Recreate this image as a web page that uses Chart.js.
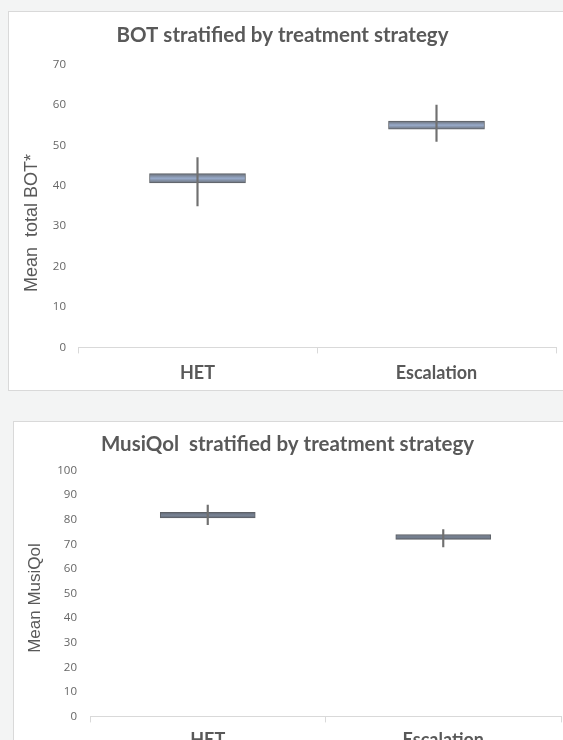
<!DOCTYPE html>
<html>
<head>
<meta charset="utf-8">
<script src="https://cdn.jsdelivr.net/npm/chart.js@4.4.1/dist/chart.umd.min.js"></script>
<style>
  html, body { margin: 0; padding: 0; }
  body { width: 563px; height: 740px; background: #f3f4f4; position: relative; overflow: hidden; }
  .panel { position: absolute; background: #ffffff; border: 1px solid #d9d9d9; overflow: hidden; }
  #p1 { left: 8px; top: 11px; width: 570px; height: 378px; }
  #p2 { left: 13px; top: 421px; width: 570px; height: 360px; }
  canvas { display: block; }
</style>
</head>
<body>
<div class="panel" id="p1"><canvas id="botChart" width="565" height="388"></canvas></div>
<div class="panel" id="p2"><canvas id="qolChart" width="560" height="360"></canvas></div>
<script>
// categories
const categories = ["HET", "Escalation"];

// BOT: box (low/high) and whiskers (min/max)
const botBoxLow = [40.7, 54];
const botBoxHigh = [43, 56];
const botWhiskerLow = [35, 51];
const botWhiskerHigh = [47, 60];
const botTicksMax = 70;

// MusiQol
const qolBoxLow = [80.7, 72];
const qolBoxHigh = [83, 74];
const qolWhiskerLow = [78, 69];
const qolWhiskerHigh = [86, 76];
const qolTicksMax = 100;

const GREY_TEXT = "#595959";

function pairs(lo, hi) {
  return lo.map((v, i) => [v, hi[i]]);
}

// shaded box like the office chart style: dark rim, lighter middle
function boxGradient(ctx, light, dark) {
  const chart = ctx.chart;
  if (!chart.chartArea || !Array.isArray(ctx.raw)) return light;
  const y = chart.scales.y;
  const top = y.getPixelForValue(Math.max(ctx.raw[0], ctx.raw[1]));
  const bot = y.getPixelForValue(Math.min(ctx.raw[0], ctx.raw[1]));
  if (!isFinite(top) || bot - top < 1) return light;
  const g = chart.ctx.createLinearGradient(0, top, 0, bot);
  g.addColorStop(0, dark);
  g.addColorStop(0.5, light);
  g.addColorStop(1, dark);
  return g;
}

// vertical axis title placed where the original has it
const sideTitle = {
  id: "sideTitle",
  afterDraw(chart, args, opts) {
    const c = chart.ctx;
    c.save();
    c.translate(opts.x, opts.y);
    c.rotate(-Math.PI / 2);
    c.font = opts.font;
    c.fillStyle = GREY_TEXT;
    c.textAlign = "center";
    c.textBaseline = "middle";
    c.fillText(opts.text, 0, 0);
    c.restore();
  }
};

function makeChart(id, cfg) {
  return new Chart(document.getElementById(id).getContext("2d"), {
    type: "bar",
    plugins: [sideTitle],
    data: {
      labels: categories,
      datasets: [
        {
          label: "whisker",
          data: pairs(cfg.wLow, cfg.wHigh),
          backgroundColor: "#707070",
          borderWidth: 0,
          barThickness: 1.5,
          order: 0
        },
        {
          label: "box",
          data: pairs(cfg.bLow, cfg.bHigh),
          backgroundColor: (c) => boxGradient(c, cfg.fill, cfg.rim),
          borderColor: "#5e6268",
          borderWidth: 1,
          borderSkipped: false,
          barThickness: cfg.boxWidth,
          order: 1
        }
      ]
    },
    options: {
      responsive: false,
      animation: false,
      grouped: false,
      layout: { padding: cfg.padding },
      plugins: {
        legend: { display: false },
        tooltip: { enabled: false },
        title: {
          display: true,
          text: cfg.title,
          color: GREY_TEXT,
          font: { family: "Lato", size: 20.5, weight: "bold" },
          padding: cfg.titlePad
        },
        sideTitle: cfg.side
      },
      scales: {
        x: {
          offset: true,
          grid: { display: true, offset: true, drawOnChartArea: false, color: "#d9d9d9", tickLength: 6, tickColor: "#d9d9d9" },
          border: { display: true, color: "#d9d9d9", width: 1 },
          ticks: { color: GREY_TEXT, padding: cfg.xPad, font: { family: "Lato", size: 18, weight: "bold" } }
        },
        y: {
          min: 0,
          max: cfg.max,
          afterFit: (s) => { s.width = cfg.yWidth; },
          grid: { display: false, drawTicks: false },
          border: { display: false },
          ticks: { stepSize: 10, color: "#666666", padding: cfg.yPad, font: { family: "Open Sans", size: 11.5 } }
        }
      }
    }
  });
}

makeChart("botChart", {
  title: "BOT stratified by treatment strategy",
  side: { text: "Mean  total BOT*", x: 23, y: 211, font: "18px 'Liberation Sans'" },
  max: botTicksMax,
  bLow: botBoxLow, bHigh: botBoxHigh,
  wLow: botWhiskerLow, wHigh: botWhiskerHigh,
  fill: "#98abcb",
  rim: "#6b7078",
  boxWidth: 96,
  padding: { left: 0, right: 18, top: 0, bottom: 7 },
  titlePad: { top: 11, bottom: 17 },
  xPad: 9,
  yPad: 12,
  yWidth: 69
});

makeChart("qolChart", {
  title: "MusiQol  stratified by treatment strategy",
  side: { text: "Mean MusiQol", x: 21, y: 176, font: "17px 'Liberation Sans'" },
  max: qolTicksMax,
  bLow: qolBoxLow, bHigh: qolBoxHigh,
  wLow: qolWhiskerLow, wHigh: qolWhiskerHigh,
  fill: "#7a8597",
  rim: "#5f656f",
  boxWidth: 95,
  padding: { left: 0, right: 13, top: 0, bottom: 24 },
  titlePad: { top: 10, bottom: 14 },
  xPad: 7,
  yPad: 13,
  yWidth: 76
});
</script>
</body>
</html>
